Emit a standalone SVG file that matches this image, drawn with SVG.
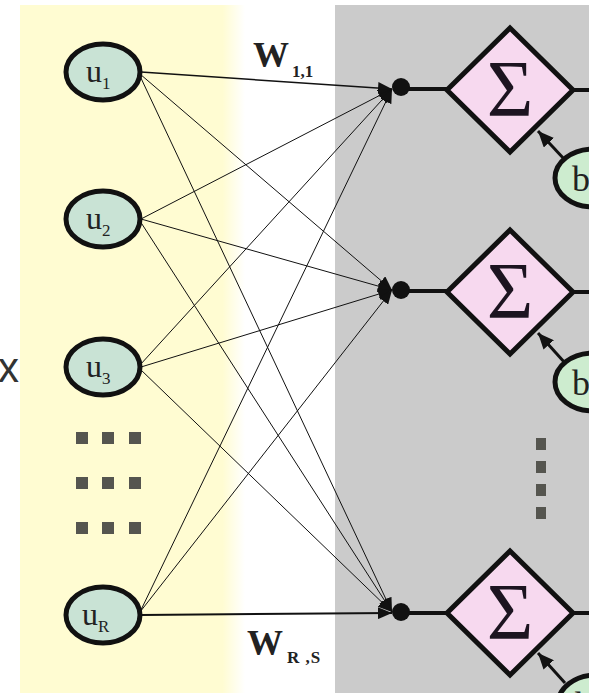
<svg xmlns="http://www.w3.org/2000/svg" width="589" height="693" viewBox="0 0 589 693">
<style>
.u{fill:#c9e3d5;stroke:#111;stroke-width:5}
.b{fill:#cdeccf;stroke:#111;stroke-width:5}
.dia{fill:#f7d9ef;stroke:#111;stroke-width:5}
.ut{font-family:"Liberation Serif",serif;font-size:32px;fill:#222}
.sub{font-size:17px}
.sig{font-family:"Liberation Serif",serif;font-size:80px;fill:#1c1420;text-anchor:middle}
.wt{font-family:"Liberation Serif",serif;font-weight:bold;font-size:36px;fill:#222}
.ws{font-size:17px}
.w{stroke:#111;stroke-width:1;fill:none}
.thick{stroke:#111;stroke-width:4;fill:none}
.sq{fill:#55554f}
</style>
<defs>
<linearGradient id="yg" x1="0" x2="1" y1="0" y2="0">
<stop offset="0" stop-color="#fffcd2"/>
<stop offset="0.9" stop-color="#fffcd2"/>
<stop offset="1" stop-color="#ffffff"/>
</linearGradient>
<marker id="ah" markerUnits="userSpaceOnUse" markerWidth="16" markerHeight="12" refX="14" refY="6" orient="auto">
<path d="M0,0 L14,6 L0,12 Z" fill="#111"/>
</marker>
<marker id="ab" markerUnits="userSpaceOnUse" markerWidth="18" markerHeight="14" refX="16" refY="7" orient="auto">
<path d="M0,0 L16,7 L0,14 Z" fill="#111"/>
</marker>
</defs>
<rect x="0" y="0" width="589" height="693" fill="#ffffff"/>
<rect x="20" y="5" width="225" height="688" fill="url(#yg)"/>
<rect x="335" y="5" width="254" height="688" fill="#cbcbcb"/>
<text x="-2" y="382" font-family="Liberation Sans,sans-serif" font-size="42" fill="#333">x</text>

<g id="connectors">
<path class="w" style="stroke-width:1.5" d="M141,72 L392,89" marker-end="url(#ah)"/>
<path class="w" d="M140,74 L392,290" marker-end="url(#ah)"/>
<path class="w" d="M140,76 L392,612" marker-end="url(#ah)"/>
<path class="w" d="M141,219 L392,89" marker-end="url(#ah)"/>
<path class="w" d="M141,219 L392,290" marker-end="url(#ah)"/>
<path class="w" d="M140,221 L392,612" marker-end="url(#ah)"/>
<path class="w" d="M140,365 L392,89" marker-end="url(#ah)"/>
<path class="w" d="M141,367 L392,290" marker-end="url(#ah)"/>
<path class="w" d="M140,369 L392,612" marker-end="url(#ah)"/>
<path class="w" d="M140,612 L392,89" marker-end="url(#ah)"/>
<path class="w" d="M140,612 L392,290" marker-end="url(#ah)"/>
<path class="w" style="stroke-width:2" d="M141,615 L392,613" marker-end="url(#ah)"/>
<path class="thick" d="M401,89 L447,89 M573,90 L589,90"/>
<path class="thick" d="M401,291 L447,291 M573,292 L589,292"/>
<path class="thick" d="M401,613 L447,613 M573,613 L589,613"/>
<path class="w" style="stroke-width:3" d="M565,160 L538,131" marker-end="url(#ab)"/>
<path class="w" style="stroke-width:3" d="M565,363 L538,333" marker-end="url(#ab)"/>
<path class="w" style="stroke-width:3" d="M565,683 L538,653" marker-end="url(#ab)"/>
<circle cx="401" cy="87" r="9" fill="#111"/>
<circle cx="401" cy="290" r="9" fill="#111"/>
<circle cx="401" cy="612" r="9" fill="#111"/>
</g>

<g id="u1"><ellipse class="u" cx="103" cy="72" rx="37" ry="28"/><text class="ut" x="86" y="82">u<tspan class="sub" dy="7">1</tspan></text></g>
<g id="u2"><ellipse class="u" cx="103" cy="219" rx="37" ry="28"/><text class="ut" x="86" y="229">u<tspan class="sub" dy="7">2</tspan></text></g>
<g id="u3"><ellipse class="u" cx="103" cy="367" rx="37" ry="28"/><text class="ut" x="86" y="377">u<tspan class="sub" dy="7">3</tspan></text></g>
<g id="uR"><ellipse class="u" cx="103" cy="615" rx="37" ry="28"/><text class="ut" x="82" y="625">u<tspan class="sub" dy="7">R</tspan></text></g>

<g id="dots-left">
<rect class="sq" x="76" y="432" width="12" height="12"/><rect class="sq" x="102" y="432" width="12" height="12"/><rect class="sq" x="129" y="432" width="12" height="12"/>
<rect class="sq" x="76" y="477" width="12" height="12"/><rect class="sq" x="102" y="477" width="12" height="12"/><rect class="sq" x="129" y="477" width="12" height="12"/>
<rect class="sq" x="76" y="522" width="12" height="12"/><rect class="sq" x="102" y="522" width="12" height="12"/><rect class="sq" x="129" y="522" width="12" height="12"/>
</g>
<g id="dots-right">
<rect class="sq" x="536" y="438" width="10" height="12"/><rect class="sq" x="536" y="461" width="10" height="12"/><rect class="sq" x="536" y="484" width="10" height="12"/><rect class="sq" x="536" y="507" width="10" height="12"/>
</g>

<g id="w11"><text class="wt" x="253" y="67">W<tspan class="ws" dx="3" dy="10">1,1</tspan></text></g>
<g id="wRS"><text class="wt" x="247" y="655">W<tspan class="ws" dx="4" dy="8" letter-spacing="1">R ,S</tspan></text></g>

<g id="sum1"><path class="dia" d="M510,28 L573,90 L510,152 L447,90 Z"/><text class="sig" x="510" y="116">Σ</text></g>
<g id="sum2"><path class="dia" d="M510,230 L573,292 L510,354 L447,292 Z"/><text class="sig" x="510" y="318">Σ</text></g>
<g id="sum3"><path class="dia" d="M510,551 L573,613 L510,675 L447,613 Z"/><text class="sig" x="510" y="639">Σ</text></g>

<g id="b1"><ellipse class="b" cx="593" cy="178" rx="38" ry="29"/><text class="ut" style="font-size:36px" x="572" y="191">b</text></g>
<g id="b2"><ellipse class="b" cx="593" cy="382" rx="38" ry="29"/><text class="ut" style="font-size:36px" x="572" y="395">b</text></g>
<g id="b3"><ellipse class="b" cx="596" cy="704" rx="38" ry="29"/><text class="ut" style="font-size:36px" x="575" y="717">b</text></g>
</svg>
